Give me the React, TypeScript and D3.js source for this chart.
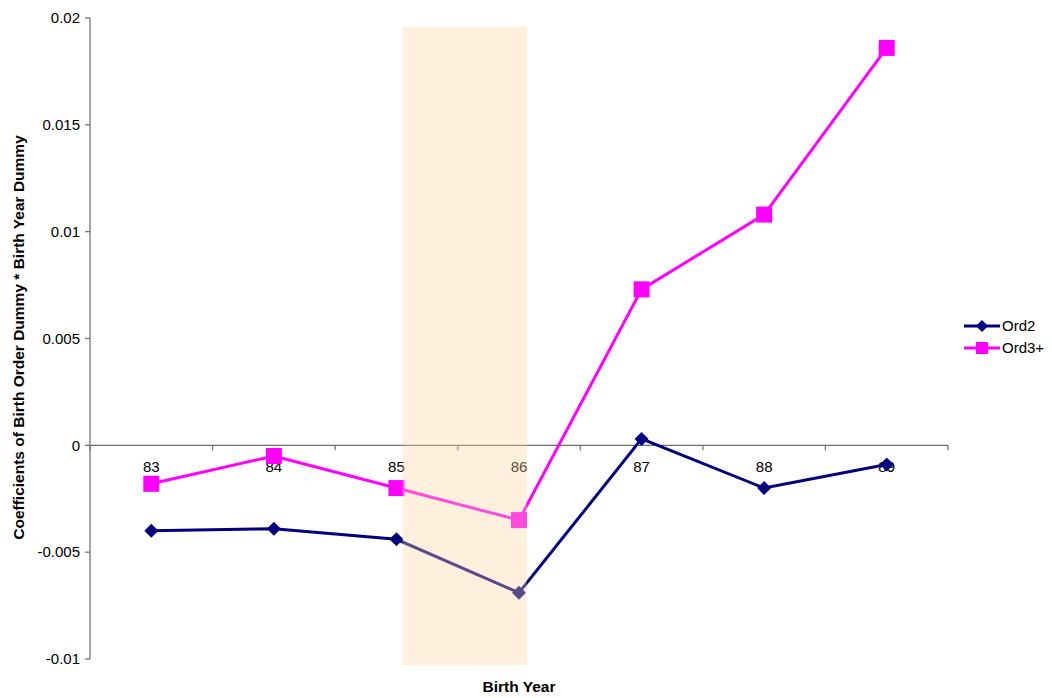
import React from "react";
import * as d3 from "d3";

const categories = ["83", "84", "85", "86", "87", "88", "89"];
const ord2 = [-0.0040, -0.0039, -0.0044, -0.0069, 0.0003, -0.0020, -0.0009];
const ord3 = [-0.0018, -0.0005, -0.0020, -0.0035, 0.0073, 0.0108, 0.0186];
const yTicks = [0.02, 0.015, 0.01, 0.005, 0, -0.005, -0.01];
const yTickLabels = ["0.02", "0.015", "0.01", "0.005", "0", "-0.005", "-0.01"];
const seriesNames = ["Ord2", "Ord3+"];
const highlight = ["85", "86"];

const W = 1052, H = 698;
const left = 90, right = 948, top = 18, bottom = 659;
const font = "'Liberation Sans', Arial, sans-serif";

export default function App() {
  const x = d3.scaleBand().domain(categories).range([left, right]);
  const y = d3.scaleLinear().domain([-0.01, 0.02]).range([bottom, top]);
  const cx = (c: string) => (x(c) as number) + x.bandwidth() / 2;
  const line = d3.line<number>().x((_, i) => cx(categories[i])).y((d) => y(d));
  const y0 = y(0);
  const navy = "#000080";
  const pink = "#FF00FF";
  const diamond = (px: number, py: number, s = 7) =>
    `M${px},${py - s}L${px + s},${py}L${px},${py + s}L${px - s},${py}Z`;
  const hx0 = cx(highlight[0]) + 6;
  const hx1 = cx(highlight[1]) + 8;

  return (
    <svg width={W} height={H} style={{ position: "absolute", left: 0, top: 0, fontFamily: font }}>
      <rect x={0} y={0} width={W} height={H} fill="#fff" />
      {/* y axis */}
      <line x1={left} x2={left} y1={top} y2={bottom} stroke="#6b6b6b" strokeWidth={1.2} />
      {yTicks.map((t, i) => (
        <g key={i}>
          <line x1={left - 5} x2={left} y1={y(t)} y2={y(t)} stroke="#6b6b6b" strokeWidth={1.2} />
          <text x={left - 10} y={y(t)} dy="0.35em" textAnchor="end" fontSize={15} fill="#000">
            {yTickLabels[i]}
          </text>
        </g>
      ))}
      {/* x axis at zero */}
      <line x1={left} x2={right} y1={y0} y2={y0} stroke="#6b6b6b" strokeWidth={1.2} />
      {d3.range(categories.length + 1).map((k) => {
        const xx = left + k * x.bandwidth();
        return <line key={k} x1={xx} x2={xx} y1={y0} y2={y0 + 5} stroke="#6b6b6b" strokeWidth={1.2} />;
      })}
      {categories.map((c) => (
        <text key={c} x={cx(c)} y={y0 + 27} textAnchor="middle" fontSize={15} fill="#000">
          {c}
        </text>
      ))}
      {/* series */}
      <path d={line(ord2) as string} fill="none" stroke={navy} strokeWidth={3} />
      {ord2.map((v, i) => (
        <path key={i} d={diamond(cx(categories[i]), y(v))} fill={navy} />
      ))}
      <path d={line(ord3) as string} fill="none" stroke={pink} strokeWidth={3} />
      {ord3.map((v, i) => (
        <rect key={i} x={cx(categories[i]) - 8} y={y(v) - 8} width={16} height={16} fill={pink} />
      ))}
      {/* highlight overlay */}
      <rect x={hx0} y={27} width={hx1 - hx0} height={665 - 27} fill="rgb(255,211,157)" fillOpacity={0.35} />
      {/* axis titles */}
      <text
        transform={`translate(24,${337.5}) rotate(-90)`}
        textAnchor="middle"
        fontSize={15.5}
        fontWeight="bold"
      >
        Coefficients of Birth Order Dummy * Birth Year Dummy
      </text>
      <text x={cx("86")} y={692} textAnchor="middle" fontSize={15.5} fontWeight="bold">
        Birth Year
      </text>
      {/* legend */}
      <g>
        <line x1={964} x2={1000} y1={326} y2={326} stroke={navy} strokeWidth={3} />
        <path d={diamond(982, 326, 6)} fill={navy} />
        <text x={1002} y={326} dy="0.35em" fontSize={15}>{seriesNames[0]}</text>
        <line x1={964} x2={1000} y1={348} y2={348} stroke={pink} strokeWidth={3} />
        <rect x={976} y={342} width={12} height={12} fill={pink} />
        <text x={1002} y={348} dy="0.35em" fontSize={15}>{seriesNames[1]}</text>
      </g>
    </svg>
  );
}
